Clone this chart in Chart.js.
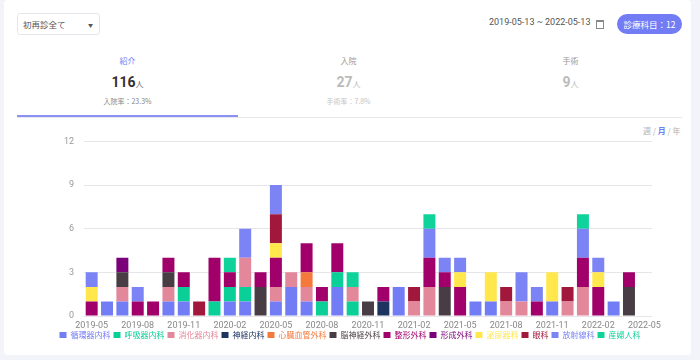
<!DOCTYPE html>
<html lang="ja">
<head>
<meta charset="utf-8">
<script src="https://cdn.jsdelivr.net/npm/chart.js@4.4.1/dist/chart.umd.min.js"></script>
<style>
    body { margin: 0; width: 700px; height: 360px; background: #f3f4f9; font-family: 'Noto Sans CJK JP', 'Noto Sans', sans-serif; position: relative; overflow: hidden; }
    .card { position: absolute; left: 4px; top: 0; width: 687px; height: 355px; background: #fff; border-radius: 4px; }
    .abs { position: absolute; white-space: nowrap; }
    .select { left: 17px; top: 13px; width: 83px; height: 22px; border: 1px solid #e6e7ec; border-radius: 3px; font-size: 8.5px; color: #555; line-height: 21px; padding-left: 5px; box-sizing: border-box; }
    .select .caret { position: absolute; right: 6px; top: 0; font-size: 5px; color: #555; }
    .date { left: 489px; top: 17px; font-size: 9px; color: #555; font-family: Roboto, 'Noto Sans CJK JP', sans-serif; }
    .cal { left: 596px; top: 20px; width: 6px; height: 6px; border: 1px solid #888; border-top-width: 2px; }
    .btn { left: 617px; top: 14px; width: 65px; height: 20px; border-radius: 10px; background: #727cf5; color: #fff; font-size: 8.5px; line-height: 20px; text-align: center; }
    .tab { top: 54px; width: 221px; text-align: center; }
    .tab .name { font-size: 8px; color: #999; height: 14px; line-height: 14px; }
    .tab .num { margin-top: 5px; font-size: 14px; font-weight: bold; color: #bbb; font-family: Roboto, 'Noto Sans CJK JP', sans-serif; height: 18px; line-height: 18px; }
    .tab .num span { font-size: 8px; font-weight: normal; }
    .tab .rate { margin-top: 5px; font-size: 7px; color: #c4c4c4; }
    .tab.active .name { color: #727cf5; }
    .tab.active .num { color: #333; }
    .tab.active .num span { color: #666; }
    .tab.active .rate { color: #888; }
    .line { left: 17px; top: 117px; width: 665px; height: 1px; background: #e8e8ec; }
    .line-active { left: 17px; top: 115px; width: 221px; height: 2px; background: #8b90f5; }
    .period { left: 643px; top: 125px; font-size: 8px; color: #b0b0b0; }
    .period b { color: #727cf5; }
    .chart-wrap { position: absolute; left: 0; top: 126px; width: 700px; height: 223px; }
</style>
</head>
<body>
<div class="card"></div>
<div class="abs select">初再診全て<span class="caret">▼</span></div>
<div class="abs date">2019-05-13 ~ 2022-05-13</div>
<div class="abs cal"></div>
<div class="abs btn">診療科目：12</div>

<div class="abs tab active" style="left:17px">
    <div class="name">紹介</div>
    <div class="num">116<span>人</span></div>
    <div class="rate">入院率：23.3%</div>
</div>
<div class="abs tab" style="left:238px">
    <div class="name">入院</div>
    <div class="num">27<span>人</span></div>
    <div class="rate">手術率：7.8%</div>
</div>
<div class="abs tab" style="left:460px">
    <div class="name">手術</div>
    <div class="num">9<span>人</span></div>
</div>
<div class="abs line"></div>
<div class="abs line-active"></div>
<div class="abs period">週 / <b>月</b> / 年</div>

<div class="chart-wrap"><canvas id="mainChart"></canvas></div>

<script>
const months = [
    '2019-05', '2019-06', '2019-07', '2019-08', '2019-09', '2019-10', '2019-11', '2019-12',
    '2020-01', '2020-02', '2020-03', '2020-04', '2020-05', '2020-06', '2020-07', '2020-08',
    '2020-09', '2020-10', '2020-11', '2020-12', '2021-01', '2021-02', '2021-03', '2021-04',
    '2021-05', '2021-06', '2021-07', '2021-08', '2021-09', '2021-10', '2021-11', '2021-12',
    '2022-01', '2022-02', '2022-03', '2022-04', '2022-05'
];

// 診療科ごとの月別紹介数
const junkanki  = [0,1,1,0,0,1,1,0, 0,1,1,0,1,2,1,0, 2,0,0,0,2,0,0,0, 0,1,1,0,0,0,1,0, 0,0,1,0,0];
const kokyuki   = [0,0,0,0,0,0,1,0, 1,1,1,0,0,0,0,1, 1,1,0,0,0,0,0,0, 0,0,0,0,0,0,0,0, 0,0,0,0,0];
const shokaki   = [0,0,1,0,0,1,0,0, 0,0,2,0,1,1,1,0, 0,1,0,0,0,1,2,0, 0,0,0,1,1,0,0,1, 2,0,0,0,0];
const shinkei   = [0,0,0,0,0,0,0,0, 0,0,0,0,0,0,0,0, 0,0,0,1,0,0,0,0, 0,0,0,0,0,0,0,0, 0,0,0,0,0];
const shinzo    = [0,0,0,0,0,0,0,0, 0,0,0,0,0,0,1,0, 0,0,0,0,0,0,0,0, 0,0,0,0,0,0,0,0, 0,0,0,0,0];
const noshinkei = [0,0,1,0,0,1,0,0, 0,0,0,2,0,0,0,0, 0,0,1,0,0,0,0,2, 0,0,0,0,0,0,0,0, 0,0,0,2,0];
const seikei    = [1,0,0,1,1,1,1,0, 3,1,0,1,2,0,2,1, 2,0,0,1,0,0,2,1, 2,0,0,0,0,1,0,0, 2,2,0,1,0];
const keisei    = [0,0,1,0,0,0,0,0, 0,0,0,0,0,0,0,0, 0,0,0,0,0,0,0,0, 0,0,0,0,0,0,0,0, 0,0,0,0,0];
const hinyoki   = [1,0,0,0,0,0,0,0, 0,0,0,0,1,0,0,0, 0,0,0,0,0,0,0,0, 1,0,2,0,0,0,2,0, 0,1,0,0,0];
const ganka     = [0,0,0,0,0,0,0,1, 0,0,0,0,2,0,0,0, 0,0,0,0,0,1,0,0, 0,0,0,1,0,0,0,1, 0,0,0,0,0];
const hoshasen  = [1,0,0,1,0,0,0,0, 0,0,2,0,2,0,0,0, 0,0,0,0,0,0,2,1, 1,0,0,0,2,1,0,0, 2,1,0,0,0];
const sanfujin  = [0,0,0,0,0,0,0,0, 0,1,0,0,0,0,0,0, 0,1,0,0,0,0,1,0, 0,0,0,0,0,0,0,0, 1,0,0,0,0];

const deptNames = ['循環器内科', '呼吸器内科', '消化器内科', '神経内科', '心臓血管外科', '脳神経外科',
    '整形外科', '形成外科', '泌尿器科', '眼科', '放射線科', '産婦人科'];
const deptValues = [junkanki, kokyuki, shokaki, shinkei, shinzo, noshinkei,
    seikei, keisei, hinyoki, ganka, hoshasen, sanfujin];
const deptColors = ['#727cf5', '#0acf97', '#e3879a', '#1d3461', '#f5793b', '#483d44',
    '#a1006b', '#7a0177', '#ffe74c', '#a1183c', '#7b83f5', '#10d39b'];

const yTicks = [0, 3, 6, 9, 12];

const fontFamily = "Roboto, 'Noto Sans CJK JP', sans-serif";

const ctx = document.getElementById('mainChart').getContext('2d');

new Chart(ctx, {
    type: 'bar',
    data: {
        labels: months,
        datasets: deptNames.map((name, i) => ({
            label: name,
            data: deptValues[i],
            backgroundColor: deptColors[i],
            borderWidth: 0,
            barPercentage: 0.78,
            categoryPercentage: 1,
        })),
    },
    options: {
        responsive: true,
        maintainAspectRatio: false,
        animation: false,
        layout: { padding: { top: 7, left: 0, right: 0, bottom: 0 } },
        plugins: {
            tooltip: { enabled: false },
            legend: {
                position: 'bottom',
                labels: {
                    boxWidth: 7,
                    boxHeight: 6,
                    padding: 3,
                    font: { size: 8, family: "'Noto Sans CJK JP', sans-serif" },
                    generateLabels: chart =>
                        Chart.defaults.plugins.legend.labels.generateLabels(chart)
                            .map(item => ({ ...item, fontColor: item.fillStyle })),
                },
            },
        },
        scales: {
            x: {
                stacked: true,
                grid: { display: false, drawTicks: false },
                border: { display: false },
                afterFit: s => { s.height = 12; },
                ticks: {
                    color: '#888',
                    font: { size: 9, family: fontFamily },
                    maxRotation: 0,
                    autoSkip: false,
                    padding: 4,
                    callback: (val, i) => (i % 3 === 0 ? months[i] : ''),
                },
            },
            y: {
                stacked: true,
                min: yTicks[0],
                max: yTicks[yTicks.length - 1],
                afterBuildTicks: s => { s.ticks = yTicks.map(v => ({ value: v })); },
                afterFit: s => { s.width = 84; },
                grid: { color: '#e6e6ea', drawTicks: false },
                border: { display: false },
                ticks: { color: '#999', font: { size: 9, family: fontFamily }, padding: 10 },
            },
            yRight: {
                position: 'right',
                grid: { display: false },
                border: { display: false },
                ticks: { display: false },
                afterFit: s => { s.width = 48; },
            },
        },
    },
});
</script>
</body>
</html>
